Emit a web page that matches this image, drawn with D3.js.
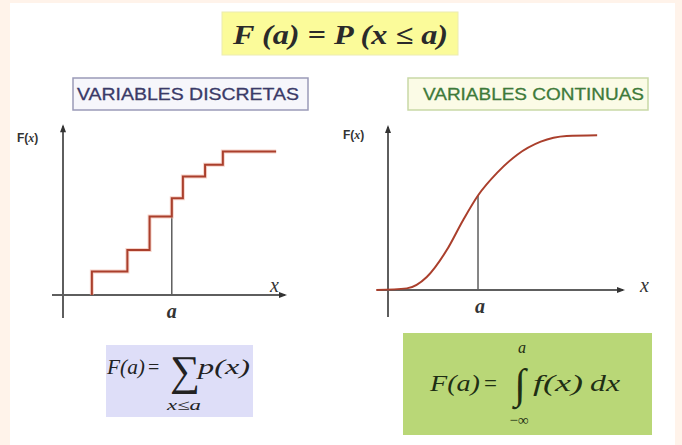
<!DOCTYPE html>
<html>
<head>
<meta charset="utf-8">
<script src="https://cdn.jsdelivr.net/npm/d3@7"></script>
<style>
  html, body { margin: 0; padding: 0; background: #fff3ea; }
  svg { display: block; }
</style>
</head>
<body>
<svg id="chart" width="682" height="445"></svg>
<script>
// Discrete CDF: jump positions and the cumulative level reached after each jump
const stepJumps = [1.3, 2.9, 3.9, 4.9, 5.4, 6.4, 7.2];
const stepLevels = [0.14, 0.27, 0.47, 0.58, 0.71, 0.78, 0.86];
const stepEnd = 9.6;
const discreteA = 4.9;

// Continuous CDF sampled along its S shape
const curveX = [-0.5, 0.8, 1.65, 2.5, 3.2, 3.83, 4.65, 5.5, 6.5, 7.6, 8.9];
const curveY = [0.0, 0.01, 0.08, 0.245, 0.43, 0.58, 0.72, 0.83, 0.91, 0.945, 0.95];
const continuousA = 3.83;

const titles = ["VARIABLES DISCRETAS", "VARIABLES CONTINUAS"];

const svg = d3.select("#chart");

// white panel inside the peach frame
svg.append("rect").attr("x", 10).attr("y", 3).attr("width", 665).attr("height", 442).attr("fill", "#ffffff");

const serif = "'Liberation Serif', 'DejaVu Serif', serif";
const sans = "Arial, 'Liberation Sans', sans-serif";
const axisColor = "#5e5e5e";
const lineColor = "#aa3f2c";

// text stretched (glyphs and spacing) to a given width
function fitText(g, x, y, str, size, width, attrs) {
  const t = g.append("text").attr("x", x).attr("y", y).attr("font-size", size)
    .attr("textLength", width).attr("lengthAdjust", "spacingAndGlyphs").text(str);
  Object.entries(attrs || {}).forEach(([k, v]) => t.attr(k, v));
  return t;
}

// --- headline formula
svg.append("rect").attr("x", 222).attr("y", 12).attr("width", 236).attr("height", 43)
  .attr("fill", "#fbfb9a").attr("stroke", "#ececb0");
fitText(svg, 233, 44, "F (a) = P (x ≤ a)", 27, 215, {
  "font-family": serif, "font-weight": "bold", "font-style": "italic", fill: "#2a2a2a"
});

// --- section titles
svg.append("rect").attr("x", 73).attr("y", 78).attr("width", 235).attr("height", 32)
  .attr("fill", "#f6f6fb").attr("stroke", "#9a9ab8").attr("stroke-width", 1.5);
fitText(svg, 77, 100, titles[0], 16.5, 222, {
  "font-family": sans, fill: "#3a3a68", stroke: "#3a3a68", "stroke-width": 0.3
});

svg.append("rect").attr("x", 408).attr("y", 78).attr("width", 240).attr("height", 32)
  .attr("fill", "#fbfbe6").attr("stroke", "#c9d9a6").attr("stroke-width", 1.5);
fitText(svg, 423, 100, titles[1], 16.5, 221, {
  "font-family": sans, fill: "#3e7a3a", stroke: "#3e7a3a", "stroke-width": 0.3
});

// axes: y axis with arrow on top, x axis with arrow on right
function drawAxes(g, x, y, opts) {
  g.append("line").attr("x1", x(0)).attr("x2", x(0)).attr("y1", opts.yBottom).attr("y2", y(opts.yTop))
    .attr("stroke", axisColor).attr("stroke-width", 2);
  g.append("line").attr("x1", opts.xLeft).attr("x2", x(opts.xRight)).attr("y1", y(0)).attr("y2", y(0))
    .attr("stroke", axisColor).attr("stroke-width", 2);
  g.append("path")
    .attr("d", `M${x(0) - 3},${y(opts.yTop) + 6} L${x(0)},${y(opts.yTop) - 2} L${x(0) + 3},${y(opts.yTop) + 6} Z`)
    .attr("fill", "#333");
  g.append("path")
    .attr("d", `M${x(opts.xRight) - 6},${y(0) - 3} L${x(opts.xRight) + 2},${y(0)} L${x(opts.xRight) - 6},${y(0) + 3} Z`)
    .attr("fill", "#333");
}

function fxLabel(g, x, y) {
  g.append("text").attr("x", x).attr("y", y).attr("font-family", sans).attr("font-weight", "bold")
    .attr("font-size", 12).attr("fill", "#333")
    .html("F(<tspan font-family=\"" + serif + "\" font-style=\"italic\">x</tspan>)");
}

// --- discrete chart
const xL = d3.scaleLinear().domain([0, 10]).range([63, 285]);
const yL = d3.scaleLinear().domain([0, 1]).range([295, 128]);
const gL = svg.append("g");
drawAxes(gL, xL, yL, { yBottom: 318, yTop: 1.01, xLeft: 52, xRight: 10 });

gL.append("line").attr("x1", xL(discreteA)).attr("x2", xL(discreteA))
  .attr("y1", yL(0)).attr("y2", yL(stepLevels[stepJumps.indexOf(discreteA)]))
  .attr("stroke", axisColor).attr("stroke-width", 1.5);

const stepPts = [[stepJumps[0], 0]];
stepJumps.forEach((j, i) => stepPts.push([j, stepLevels[i]]));
stepPts.push([stepEnd, stepLevels[stepLevels.length - 1]]);
const stepLine = d3.line().x(d => xL(d[0])).y(d => yL(d[1])).curve(d3.curveStepAfter);
// soft halo under the staircase
gL.append("path").attr("d", stepLine(stepPts))
  .attr("fill", "none").attr("stroke", "#f2b8a8").attr("stroke-width", 4).attr("opacity", 0.6);
gL.append("path").attr("d", stepLine(stepPts))
  .attr("fill", "none").attr("stroke", lineColor).attr("stroke-width", 2);

fxLabel(gL, 17, 142);
gL.append("text").attr("x", 270).attr("y", 292).attr("font-family", serif).attr("font-style", "italic")
  .attr("font-size", 20).attr("fill", "#333").text("x");
gL.append("text").attr("x", xL(discreteA)).attr("y", 318).attr("text-anchor", "middle")
  .attr("font-family", serif).attr("font-style", "italic").attr("font-weight", "bold")
  .attr("font-size", 20).attr("fill", "#333").text("a");

// --- continuous chart
const xR = d3.scaleLinear().domain([0, 10]).range([388, 623]);
const yR = d3.scaleLinear().domain([0, 1]).range([290, 127]);
const gR = svg.append("g");
drawAxes(gR, xR, yR, { yBottom: 317, yTop: 1.0, xLeft: 377, xRight: 10 });

const contPts = d3.zip(curveX, curveY);
gR.append("line").attr("x1", xR(continuousA)).attr("x2", xR(continuousA))
  .attr("y1", yR(0)).attr("y2", yR(curveY[curveX.indexOf(continuousA)]))
  .attr("stroke", axisColor).attr("stroke-width", 1.5);
gR.append("path")
  .attr("d", d3.line().x(d => xR(d[0])).y(d => yR(d[1])).curve(d3.curveMonotoneX)(contPts))
  .attr("fill", "none").attr("stroke", lineColor).attr("stroke-width", 2);

fxLabel(gR, 343, 139);
gR.append("text").attr("x", 640).attr("y", 292).attr("font-family", serif).attr("font-style", "italic")
  .attr("font-size", 20).attr("fill", "#333").text("x");
gR.append("text").attr("x", xR(continuousA) + 2).attr("y", 313).attr("text-anchor", "middle")
  .attr("font-family", serif).attr("font-style", "italic").attr("font-weight", "bold")
  .attr("font-size", 20).attr("fill", "#333").text("a");

// --- sum formula
svg.append("rect").attr("x", 106).attr("y", 345).attr("width", 147).attr("height", 72).attr("fill", "#dedef8");
const fs = svg.append("g").attr("font-family", serif).attr("fill", "#222");
fitText(fs, 107, 374, "F(a)", 20, 38, { "font-style": "italic" });
fs.append("text").attr("x", 148).attr("y", 374).attr("font-size", 20).text("=");
fs.append("text").attr("x", 185).attr("y", 385).attr("text-anchor", "middle").attr("font-size", 42).text("∑");
fitText(fs, 198, 374, "p(x)", 20, 52, { "font-style": "italic" });
fitText(fs, 167, 410, "x≤a", 15, 34, { "font-style": "italic" });

// --- integral formula
svg.append("rect").attr("x", 403).attr("y", 333).attr("width", 249).attr("height", 102).attr("fill", "#b9d777");
const fi = svg.append("g").attr("font-family", serif).attr("fill", "#1f2e14");
fitText(fi, 430, 391, "F(a)", 23, 50, { "font-style": "italic" });
fi.append("text").attr("x", 484).attr("y", 391).attr("font-size", 23).text("=");
fi.append("text").attr("x", 520).attr("y", 398).attr("text-anchor", "middle").attr("font-size", 42).attr("font-style", "italic").text("∫");
fi.append("text").attr("x", 522).attr("y", 353).attr("text-anchor", "middle").attr("font-size", 16).attr("font-style", "italic").text("a");
fi.append("text").attr("x", 519).attr("y", 425).attr("text-anchor", "middle").attr("font-size", 15).text("−∞");
fitText(fi, 533, 391, "f(x)", 23, 50, { "font-style": "italic" });
fitText(fi, 590, 391, "dx", 23, 30, { "font-style": "italic" });
</script>
</body>
</html>
